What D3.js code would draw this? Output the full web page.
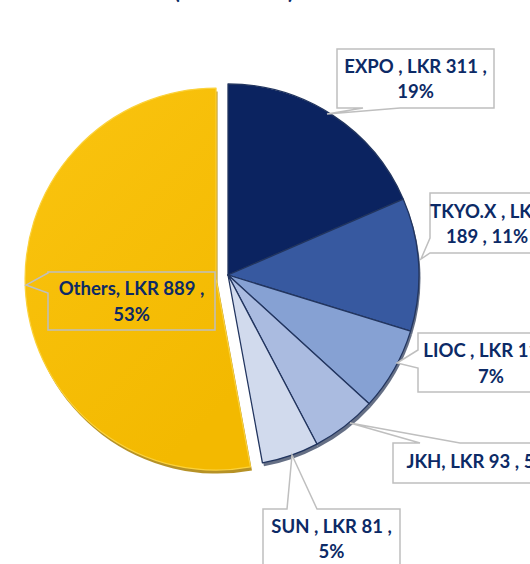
<!DOCTYPE html>
<html><head><meta charset="utf-8">
<script src="https://cdn.jsdelivr.net/npm/d3@7"></script>
<style>body{margin:0;background:#fff;overflow:hidden} svg{display:block}</style>
</head><body>
<script>
// ---- data ----
const categories = ["EXPO", "TKYO.X", "LIOC", "JKH", "SUN", "Others"];
const values = [311, 189, 118, 93, 81, 889];
const labelLines = [
  ["EXPO , LKR 311 ,", "19%"],
  ["TKYO.X , LKR", "189 , 11%"],
  ["LIOC , LKR 118 ,", "7%"],
  ["JKH, LKR 93 , 5%"],
  ["SUN , LKR 81 ,", "5%"],
  ["Others, LKR 889 ,", "53%"]
];
const titleText = "(LKR Million)";

// ---- styles / layout ----
const colors = ["#0b2360", "#3759a0", "#86a1d3", "#aabbe0", "#d1daed", "#f6bd0c"];
const explode = [0, 0, 0, 0, 0, 12];
const textColor = "#0c2a66";
const W = 530, H = 564;
const cx = 228, cy = 275, R = 191;
// callout boxes: [x, y, w, h], edge that carries the pointer, base points along the edge, tip
const callouts = [
  {box: [337, 49, 157, 59], edge: "bottom", base: [363, 400], tip: [327, 114], fill: "#fff"},
  {box: [430, 193, 114, 60], edge: "left", base: [238, 253], tip: [421, 259], fill: "#fff"},
  {box: [418, 333, 146, 59], edge: "left", base: [350, 368], tip: [397, 363], fill: "#fff"},
  {box: [393, 443, 170, 40], edge: "top", base: [420, 460], tip: [350, 423], fill: "#fff"},
  {box: [263, 509, 137, 62], edge: "top", base: [287, 317], tip: [292, 455], fill: "#fff"},
  {box: [48, 272, 167, 58], edge: "left", base: [273, 293], tip: [26, 285], fill: "none"}
];
const baselines = [[73, 98], [218, 243], [357, 383], [468], [533, 558], [295, 321]];

const svg = d3.select("body").append("svg").attr("width", W).attr("height", H);
const defs = svg.append("defs");
const g1 = defs.append("linearGradient").attr("id", "gold").attr("x1", "0").attr("y1", "0").attr("x2", "0.6").attr("y2", "1");
g1.append("stop").attr("offset", "0").attr("stop-color", "#fac410");
g1.append("stop").attr("offset", "1").attr("stop-color", "#f3b900");

// title (mostly cropped off the top)
svg.append("text").attr("x", 234).attr("y", -1).attr("text-anchor", "middle")
  .attr("font-family", "Lato, 'Open Sans', sans-serif").attr("font-weight", 700)
  .attr("font-size", 21).attr("fill", textColor).text(titleText);

const pie = d3.pie().sort(null).value(d => d).startAngle(0).endAngle(2 * Math.PI);
const arcs = pie(values);
const arc = d3.arc().innerRadius(0).outerRadius(R);

const chart = svg.append("g");
const sliceG = chart.selectAll("g.slice").data(arcs).enter().append("g")
  .attr("class", "slice")
  .attr("transform", (d, i) => {
    const m = (d.startAngle + d.endAngle) / 2;
    const dx = Math.sin(m) * explode[i], dy = -Math.cos(m) * explode[i] + (i === 5 ? 3 : 0);
    return `translate(${cx + dx},${cy + dy})`;
  });

// bevel / shadow underneath
sliceG.append("path")
  .attr("d", arc)
  .attr("transform", "translate(1.5,3.5)")
  .attr("fill", (d, i) => i === 5 ? "#a97f00" : "#4a5670")
  .attr("opacity", 0.85);

sliceG.append("path")
  .attr("d", arc)
  .attr("fill", (d, i) => i === 5 ? "url(#gold)" : colors[i])
  .attr("stroke", (d, i) => i === 5 ? "#fbd23c" : "#22355f")
  .attr("stroke-width", (d, i) => i === 5 ? 1.2 : 1.3)
  .attr("stroke-linejoin", "round");

// callouts
function calloutPath(c) {
  const [x, y, w, h] = c.box, [b1, b2] = c.base, [tx, ty] = c.tip;
  const p = d3.path();
  p.moveTo(x, y);
  if (c.edge === "top") { p.lineTo(b1, y); p.lineTo(tx, ty); p.lineTo(b2, y); }
  p.lineTo(x + w, y);
  if (c.edge === "right") { p.lineTo(x + w, b1); p.lineTo(tx, ty); p.lineTo(x + w, b2); }
  p.lineTo(x + w, y + h);
  if (c.edge === "bottom") { p.lineTo(b2, y + h); p.lineTo(tx, ty); p.lineTo(b1, y + h); }
  p.lineTo(x, y + h);
  if (c.edge === "left") { p.lineTo(x, b2); p.lineTo(tx, ty); p.lineTo(x, b1); }
  p.closePath();
  return p.toString();
}

const lab = svg.selectAll("g.callout").data(callouts).enter().append("g").attr("class", "callout");
lab.append("path").attr("d", calloutPath)
  .attr("fill", d => d.fill).attr("stroke", "#bfbfbf").attr("stroke-width", 1.5);

lab.each(function (c, i) {
  const cxb = c.box[0] + c.box[2] / 2;
  const t = d3.select(this).append("text")
    .attr("font-family", "Lato, 'Open Sans', sans-serif").attr("font-weight", 700)
    .attr("font-size", 18.5).attr("fill", textColor).attr("text-anchor", "middle");
  labelLines[i].forEach((ln, k) => {
    t.append("tspan").attr("x", cxb).attr("y", baselines[i][k]).text(ln);
  });
});
</script>
</body></html>
